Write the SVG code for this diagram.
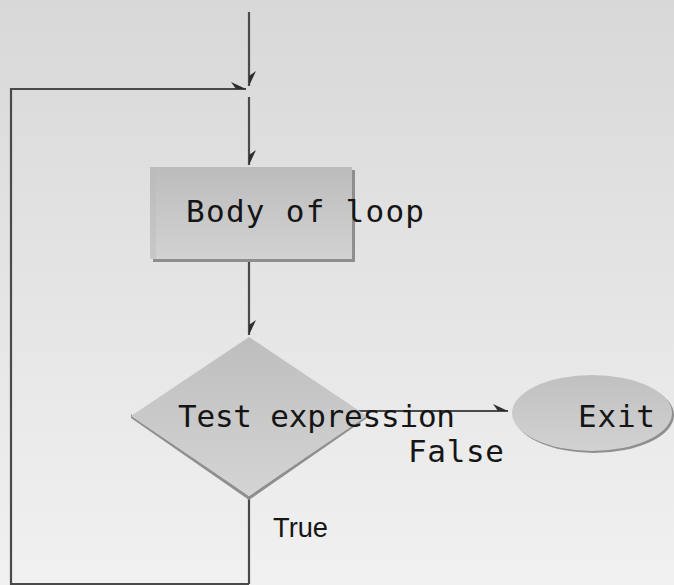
<svg xmlns="http://www.w3.org/2000/svg" width="674" height="585" viewBox="0 0 674 585">
<defs>
<linearGradient id="bg" x1="0" y1="0" x2="0" y2="1">
<stop offset="0" stop-color="#d8d8d8"/>
<stop offset="1" stop-color="#f1f1f1"/>
</linearGradient>
<linearGradient id="boxg" x1="0" y1="0" x2="0" y2="1">
<stop offset="0" stop-color="#bcbcbc"/>
<stop offset="1" stop-color="#d2d2d2"/>
</linearGradient>
<linearGradient id="diag" x1="0" y1="0" x2="0" y2="1">
<stop offset="0" stop-color="#bebebe"/>
<stop offset="1" stop-color="#d4d4d4"/>
</linearGradient>
<linearGradient id="ellg" x1="0" y1="0" x2="0" y2="1">
<stop offset="0" stop-color="#c0c0c0"/>
<stop offset="1" stop-color="#d2d2d2"/>
</linearGradient>
<marker id="barb" viewBox="-16 -8 18 16" refX="0" refY="0" markerWidth="18" markerHeight="16" markerUnits="userSpaceOnUse" orient="auto">
<path d="M0,0 L-15,-7 L-10,0 Z" fill="#2e2e2e"/>
</marker>
</defs>
<style>
.conn{fill:none;stroke:#4a4a4a;stroke-width:2.2}
.arr{marker-end:url(#barb)}
.mono{font-family:"DejaVu Sans Mono","Liberation Mono",monospace;fill:#151515}
.sans{font-family:"Liberation Sans",Arial,sans-serif;fill:#151515}
</style>
<rect x="0" y="0" width="674" height="585" fill="url(#bg)"/>
<g id="connectors">
<line class="conn arr" x1="249" y1="12" x2="249" y2="86"/>
<polyline class="conn arr" points="249,584 11,584 11,89 246,89"/>
<line class="conn" x1="249" y1="497" x2="249" y2="584"/>
<line class="conn arr" x1="249" y1="97" x2="249" y2="165"/>
<line class="conn arr" x1="249" y1="260" x2="249" y2="335"/>
<line class="conn arr" x1="357" y1="411" x2="508" y2="411"/>
</g>
<g id="body">
<rect x="153" y="170" width="202" height="92" fill="#8e8e8e"/>
<rect x="150" y="167" width="202" height="92" fill="url(#boxg)"/>
<rect x="150" y="167" width="6" height="92" fill="#b8b8b8" opacity="0.4"/>
<text class="mono" x="186" y="222" font-size="31" textLength="238" lengthAdjust="spacing">Body of loop</text>
</g>
<g id="test">
<polygon points="131,418 249,500 367,418 367,414 249,496 131,414" fill="#8f8f8f"/>
<polygon points="249,337 367,416 249,496 131,416" fill="url(#diag)"/>
<text class="mono" x="178" y="427" font-size="31" textLength="277" lengthAdjust="spacing">Test expression</text>
</g>
<g id="exit">
<ellipse cx="594" cy="415" rx="80" ry="38" fill="#8f8f8f"/>
<ellipse cx="592" cy="413" rx="80" ry="38" fill="url(#ellg)"/>
<text class="mono" x="578" y="427" font-size="31" textLength="77" lengthAdjust="spacing">Exit</text>
</g>
<g id="labels">
<text class="mono" x="408" y="462" font-size="31" textLength="96" lengthAdjust="spacing">False</text>
<text class="sans" x="273" y="537" font-size="28" textLength="55" lengthAdjust="spacingAndGlyphs">True</text>
</g>
</svg>
